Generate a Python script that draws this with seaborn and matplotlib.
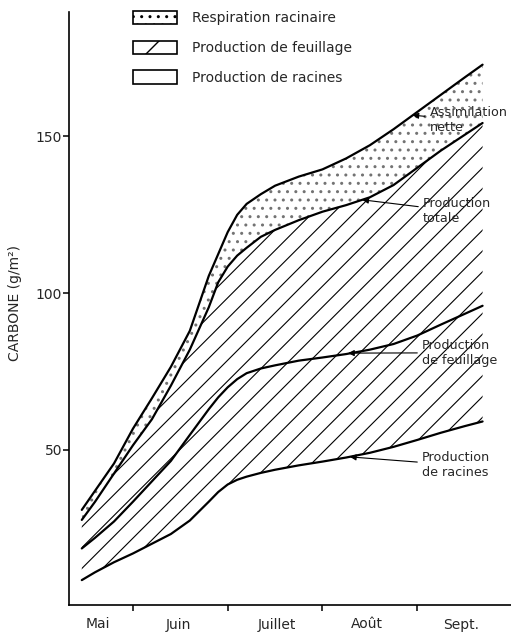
import numpy as np
import matplotlib
matplotlib.use("Agg")
import matplotlib.pyplot as plt
from matplotlib.patches import Patch
import seaborn as sns

# Données (x en mois : 1 = début juin, 2 = début juillet...)
mois = [0.46, 0.6, 0.8, 1.0, 1.2, 1.4, 1.6, 1.8, 1.9, 2.0, 2.1, 2.2, 2.35, 2.5,
        2.75, 3.0, 3.25, 3.5, 3.75, 4.0, 4.25, 4.5, 4.69]
assimilation_nette = [30.9, 37.0, 45.7, 56.8, 66.5, 76.5, 88.0, 105.5, 112.5, 119.5,
                      125.0, 128.5, 131.6, 134.3, 137.2, 139.5, 143.0, 147.2, 152.3,
                      157.8, 163.3, 168.8, 172.9]
production_totale = [27.7, 33.5, 42.5, 51.5, 59.8, 70.5, 82.0, 95.5, 103.5, 108.5,
                     112.0, 114.5, 118.0, 120.2, 123.3, 126.0, 128.1, 130.6, 134.5,
                     140.0, 145.5, 150.5, 154.3]
production_feuillage = [18.6, 22.0, 27.2, 33.5, 40.0, 46.5, 54.8, 63.0, 66.8, 70.0,
                        72.6, 74.5, 76.0, 77.0, 78.5, 79.5, 80.6, 82.0, 83.8, 86.5,
                        90.0, 93.4, 96.0]
production_racines = [8.5, 11.0, 14.2, 17.0, 20.1, 23.2, 27.5, 33.5, 36.6, 39.0, 40.5,
                      41.5, 42.7, 43.7, 45.1, 46.3, 47.6, 49.1, 51.0, 53.2, 55.5, 57.6,
                      59.1]

mois_labels = ["Mai", "Juin", "Juillet", "Août", "Sept."]
mois_pos = [0.63, 1.48, 2.52, 3.47, 4.46]
limites_mois = [1, 2, 3, 4]
y_ticks = [50, 100, 150]

sns.set_style("ticks")
plt.rcParams["font.family"] = ["DejaVu Sans"]

W, H = 511, 635
fig = plt.figure(figsize=(W / 100, H / 100), dpi=100)
ax = fig.add_axes([69 / W, (H - 605) / H, (W - 69) / W, (605 - 12) / H])

# Courbes
for serie in [assimilation_nette, production_totale, production_feuillage, production_racines]:
    sns.lineplot(x=mois, y=serie, color="black", lw=1.6, ax=ax)

# Respiration racinaire (pointillé)
ax.fill_between(mois, production_totale, assimilation_nette, facecolor="none",
                edgecolor="0.45", hatch="..", linewidth=0)
zone = ax.fill_between(mois, production_racines, production_totale, facecolor="none",
                       linewidth=0)

ax.set_xlim(0.325, 4.99)
ax.set_ylim(0.56, 189.7)

# Hachures à 45° faites à la main (clip sur la zone)
inv = ax.transData.inverted()
clip = zone.get_paths()[0]
xs = np.array([40.0, 520.0])
for k in range(-28, 28):
    b = H - (608.7 + 20.8 * k)
    pts = inv.transform(np.column_stack([xs, xs + b]))
    ln, = ax.plot(pts[:, 0], pts[:, 1], color="black", lw=0.8)
    ln.set_clip_path(clip, ax.transData)

# Axes
sns.despine(ax=ax)
for s in ["left", "bottom"]:
    ax.spines[s].set_linewidth(1.2)
    ax.spines[s].set_color("black")
ax.set_xticks(limites_mois)
ax.set_xticklabels([])
ax.set_xticks(mois_pos, minor=True)
ax.set_xticklabels(mois_labels, minor=True, fontsize=10)
ax.tick_params(axis="x", which="minor", length=0, pad=9)
ax.tick_params(axis="x", which="major", length=4, width=1.1, color="black")
ax.set_yticks(y_ticks)
ax.tick_params(axis="y", length=4, width=1.1, pad=1, labelsize=10, color="black")
ax.set_ylabel("CARBONE (g/m²)", fontsize=10)
ax.yaxis.set_label_coords(-0.106, 0.51)

# Légende
handles = [
    Patch(facecolor="white", edgecolor="black", hatch="..", lw=1.2),
    Patch(facecolor="white", edgecolor="black", hatch="/", lw=1.2),
    Patch(facecolor="white", edgecolor="black", lw=1.2),
]
labels = ["Respiration racinaire", "Production de feuillage", "Production de racines"]
fig.legend(handles, labels, loc="upper left", bbox_to_anchor=(133 / W, 1 - 11 / H),
           frameon=False, fontsize=10, handlelength=3.2, handleheight=1.1,
           handletextpad=1.05, labelspacing=1.1, borderpad=0, borderaxespad=0)

# Annotations
fl = dict(arrowstyle="-|>", color="black", lw=0.8, mutation_scale=9, shrinkA=1, shrinkB=0)
ax.annotate("Assimilation\nnette", xy=(3.95, 156.8), xytext=(4.13, 155.1),
            ha="left", va="center", fontsize=9.2, arrowprops=fl)
ax.annotate("Production\ntotale", xy=(3.42, 129.8), xytext=(4.06, 126.1),
            ha="left", va="center", fontsize=9.2, arrowprops=fl)
ax.annotate("Production\nde feuillage", xy=(3.27, 80.9), xytext=(4.05, 81.0),
            ha="left", va="center", fontsize=9.2, arrowprops=fl)
ax.annotate("Production\nde racines", xy=(3.29, 47.8), xytext=(4.05, 45.2),
            ha="left", va="center", fontsize=9.2, arrowprops=fl)

fig.savefig("out.png", dpi=100)
